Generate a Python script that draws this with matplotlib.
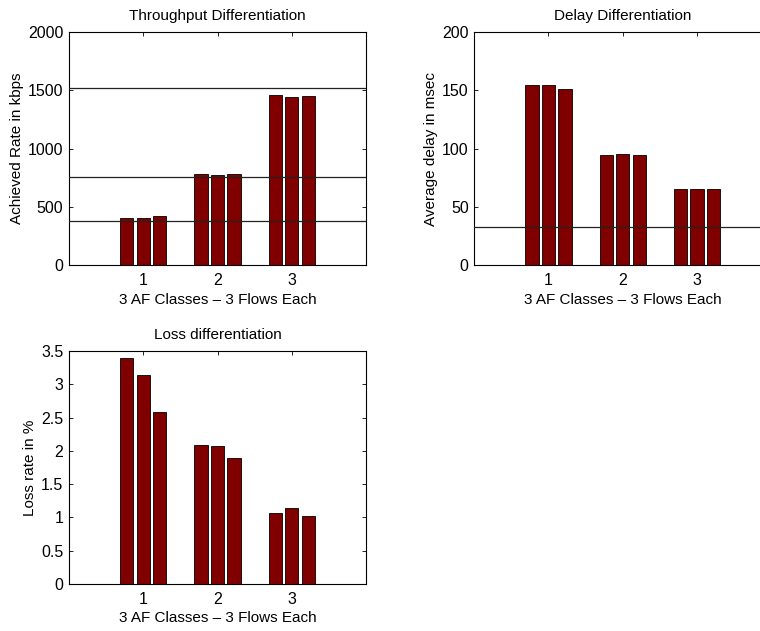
import numpy as np
from matplotlib import pyplot as plt
from matplotlib.ticker import FormatStrFormatter

classes = [1, 2, 3]

# achieved rate (kbps), one list per flow, indexed by class
tput_flow1 = [400, 780, 1464]
tput_flow2 = [400, 772, 1444]
tput_flow3 = [418, 782, 1453]
tput_targets = [380, 760, 1520]

# average delay (msec)
delay_flow1 = [155, 94.6, 65.6]
delay_flow2 = [154.4, 95.1, 65.3]
delay_flow3 = [151.3, 94.8, 65.6]
delay_targets = [33]

# loss rate (%)
loss_flow1 = [3.39, 2.09, 1.06]
loss_flow2 = [3.14, 2.08, 1.14]
loss_flow3 = [2.59, 1.90, 1.02]

BAR_COLOR = '#800000'
FONT = 'Liberation Sans'


def grouped_bars(ax, flows, ylim, yticks, title, ylabel, refs=()):
    x = np.array(classes, dtype=float)
    step = 0.667 / 3
    for i, vals in enumerate(flows):
        ax.bar(x + (i - 1) * step, vals, width=0.8 * step, color=BAR_COLOR,
               edgecolor='black', linewidth=0.6, zorder=2)
    for r in refs:
        ax.axhline(r, color='#222222', linewidth=0.9, zorder=3)
    ax.set_xlim(0, 4)
    ax.set_ylim(*ylim)
    ax.set_xticks(classes)
    ax.set_yticks(yticks)
    ax.yaxis.set_major_formatter(FormatStrFormatter('%g'))
    ax.tick_params(direction='in', top=True, right=True, length=3,
                   width=0.6, labelsize=11.5)
    ax.tick_params(axis='x', pad=6)
    ax.tick_params(axis='y', pad=4)
    for s in ax.spines.values():
        s.set_linewidth(0.8)
    ax.set_title(title, fontsize=11, pad=9)
    ax.set_ylabel(ylabel, fontsize=11, labelpad=3)
    ax.set_xlabel('3 AF Classes – 3 Flows Each', fontsize=11, labelpad=3)


def main() -> None:
    plt.rcParams['font.family'] = [FONT, 'DejaVu Sans']
    fig = plt.figure(figsize=(7.6, 6.31), dpi=100)

    ax1 = fig.add_axes([0.0908, 0.580, 0.3908, 0.3688])
    grouped_bars(ax1, [tput_flow1, tput_flow2, tput_flow3], (0, 2000),
                 range(0, 2001, 500), 'Throughput Differentiation',
                 'Achieved Rate in kbps', tput_targets)

    # this panel runs past the right edge of the figure in the original
    ax2 = fig.add_axes([0.624, 0.580, 0.3908, 0.3688])
    grouped_bars(ax2, [delay_flow1, delay_flow2, delay_flow3], (0, 200),
                 range(0, 201, 50), 'Delay Differentiation',
                 'Average delay in msec', delay_targets)

    ax3 = fig.add_axes([0.0908, 0.0745, 0.3908, 0.3692])
    grouped_bars(ax3, [loss_flow1, loss_flow2, loss_flow3], (0, 3.5),
                 np.arange(0, 3.51, 0.5), 'Loss differentiation',
                 'Loss rate in %')

    fig.savefig('out.png', dpi=100)


if __name__ == '__main__':
    main()
